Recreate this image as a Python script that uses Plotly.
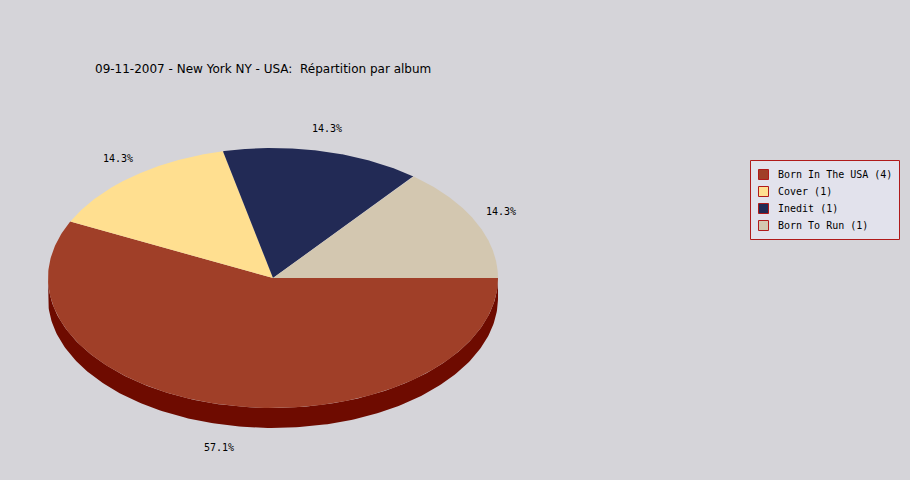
import numpy as np
import plotly.graph_objects as go

# ---- data ----
albums = ["Born In The USA", "Cover", "Inedit", "Born To Run"]
counts = [4, 1, 1, 1]
colors = ["#A03F28", "#FFDF90", "#222A55", "#D3C7B0"]
side_colors = ["#6E0B00", "#B89A50", "#10143A", "#9A8F78"]
title_text = "09-11-2007 - New York NY - USA:  Répartition par album"

W, H = 910, 480
cx, cy = 273, 278
rx, ry = 225, 130
depth = 20

fig = go.Figure()

total = sum(counts)
fracs = [c / total for c in counts]
starts = np.cumsum([0] + fracs[:-1]) * 360.0
ends = starts + np.array(fracs) * 360.0

def ell(t, dy=0.0):
    r = np.radians(t)
    return cx + rx * np.cos(r), cy + ry * np.sin(r) + dy

# sides (front half only)
for a0, a1, sc in zip(starts, ends, side_colors):
    lo, hi = max(a0, 0), min(a1, 180)
    if hi > lo:
        t = np.linspace(lo, hi, 200)
        x1, y1 = ell(t)
        x2, y2 = ell(t[::-1], depth)
        fig.add_trace(go.Scatter(x=np.concatenate([x1, x2]), y=np.concatenate([y1, y2]),
                                 fill="toself", fillcolor=sc, mode="lines",
                                 line=dict(width=0, color=sc), hoverinfo="skip", showlegend=False))

# top slices
for name, a0, a1, col in zip(albums, starts, ends, colors):
    t = np.linspace(a0, a1, 300)
    x, y = ell(t)
    fig.add_trace(go.Scatter(x=np.concatenate([[cx], x, [cx]]), y=np.concatenate([[cy], y, [cy]]),
                             fill="toself", fillcolor=col, mode="lines",
                             line=dict(width=0, color=col), hoverinfo="skip", showlegend=False))

# percentage labels
Lm = 15
for f, a0, a1 in zip(fracs, starts, ends):
    m = np.radians((a0 + a1) / 2)
    kx = rx + Lm + 15 * abs(np.cos(m))
    lx = cx + kx * np.cos(m)
    ly = cy + 153 * np.sin(m) + (depth if np.sin(m) > 0 else 0)
    fig.add_annotation(x=lx, y=ly, text=f"{f*100:.1f}%", showarrow=False,
                       font=dict(family="DejaVu Sans Mono", size=10, color="black"),
                       xanchor="center", yanchor="middle")

# legend (box, swatches, texts)
lg_x0, lg_y0, lg_x1, lg_y1 = 750.5, 160.5, 899.5, 239.5
row0, row_step = 174.5, 17
fig.add_shape(type="rect", xref="x", yref="y", x0=lg_x0, y0=lg_y0, x1=lg_x1, y1=lg_y1,
              fillcolor="#E2E2EC", line=dict(color="#B01A1A", width=1), layer="below")
for i, (name, c, col) in enumerate(zip(albums, counts, colors)):
    yc = row0 + i * row_step
    fig.add_shape(type="rect", xref="x", yref="y", x0=758.5, x1=768.5, y0=yc - 5, y1=yc + 5,
                  fillcolor=col, line=dict(color="#B01A1A", width=1))
    fig.add_annotation(x=776, y=yc, text=f"{name} ({c})", showarrow=False,
                       xanchor="left", yanchor="middle",
                       font=dict(family="DejaVu Sans Mono", size=10, color="black"))

fig.add_annotation(x=93, y=69, text=title_text, showarrow=False, xanchor="left", yanchor="middle",
                   font=dict(family="DejaVu Sans", size=12, color="black"))

fig.update_layout(
    width=W, height=H, autosize=False,
    margin=dict(l=0, r=0, t=0, b=0),
    paper_bgcolor="#D5D4D9", plot_bgcolor="#D5D4D9",
    xaxis=dict(range=[0, W], visible=False, fixedrange=True),
    yaxis=dict(range=[H, 0], visible=False, fixedrange=True),
    showlegend=False,
)

fig.write_html("out.html", config={"displayModeBar": False},
               post_script="document.body.style.margin='0';document.body.style.overflow='hidden';")
